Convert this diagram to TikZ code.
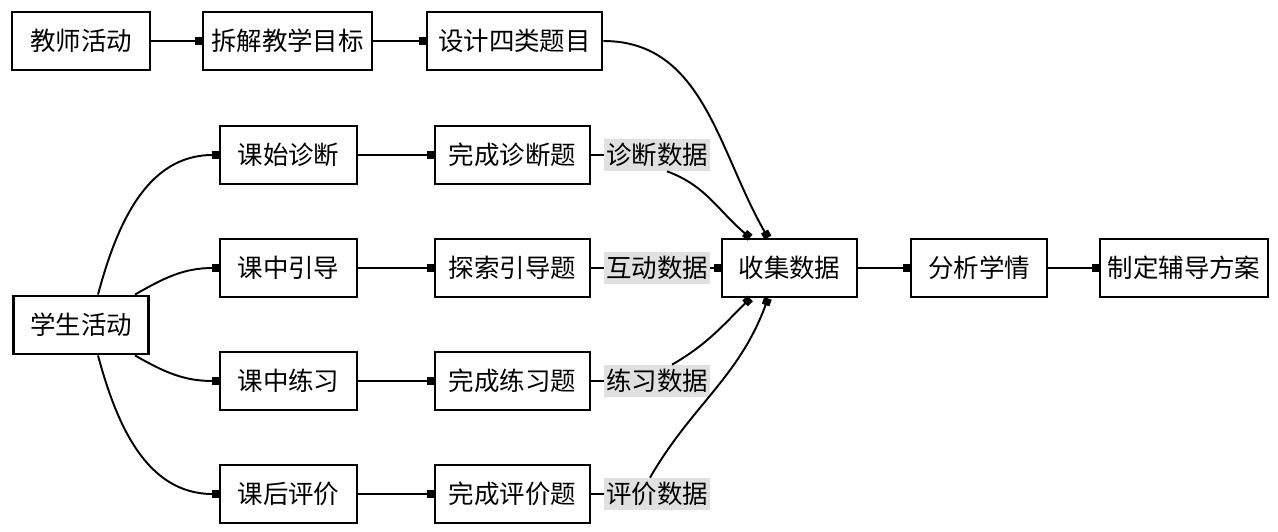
\documentclass[tikz,border=0pt]{standalone}
\usepackage{fontspec}
\setmainfont{Noto Sans CJK SC}
\usepackage{tikz}
\usetikzlibrary{positioning}
\usetikzlibrary{arrows.meta}

\tikzset{
  box/.style={draw, line width=1.6pt, minimum height=1.16cm, minimum width=#1,
    inner sep=0pt, font=\fontsize{14.5}{16}\selectfont},
  datatag/.style={fill=black!12, minimum height=0.64cm, minimum width=2.12cm,
    inner sep=0pt, font=\fontsize{14.5}{16}\selectfont},
  link/.style={line width=1.1pt, -{Square[length=4pt,width=4.5pt]}},
  plain/.style={line width=1.1pt},
}

\begin{document}
\begin{tikzpicture}[x=0.02cm, y=0.02cm]
  \useasboundingbox (0,0) rectangle (1278,-531);

  % teacher row
  \node[box=2.76cm] (teacher) at (81,-41) {教师活动};
  \node[box=3.38cm] (split) at (287.5,-41) {拆解教学目标};
  \node[box=3.5cm] (design) at (514.5,-41) {设计四类题目};
  \draw[link] (teacher) -- (split);
  \draw[link] (split) -- (design);

  % student rows
  \node[box=2.7cm] (student) at (81,-325) {学生活动};
  \node[box=2.7cm] (collect) at (789.5,-268) {收集数据};
  \node[box=2.72cm] (analyse) at (979,-268) {分析学情};
  \node[box=3.36cm] (plan) at (1184,-268) {制定辅导方案};

  \foreach \n/\y/\stage/\task/\data in {1/155/课始诊断/完成诊断题/诊断数据,
      2/268/课中引导/探索引导题/互动数据,
      3/381/课中练习/完成练习题/练习数据,
      4/494/课后评价/完成评价题/评价数据} {
    \node[box=2.74cm] (s\n) at (288.5,-\y) {\stage};
    \node[box=3.1cm] (t\n) at (512.5,-\y) {\task};
    \node[datatag] (d\n) at (657,-\y) {\data};
    \draw[link] (s\n) -- (t\n);
    \draw[plain] (t\n) -- (d\n);
  }

  \draw[link] ([xshift=0.34cm]student.north) to[out=75,in=180] (s1.west);
  \draw[link] ([xshift=1.08cm]student.north) to[out=30,in=180] (s2.west);
  \draw[link] ([xshift=1.08cm]student.south) to[out=-30,in=180] (s3.west);
  \draw[link] ([xshift=0.34cm]student.south) to[out=-75,in=180] (s4.west);

  % into collect
  \draw[link] (design.east) to[out=0,in=120] ([xshift=-0.43cm]collect.north);
  \draw[link] ([xshift=0.2cm]d1.south) to[out=-20,in=140] ([xshift=-0.79cm]collect.north);
  \draw[link] (d2) -- (collect);
  \draw[link] ([xshift=0.3cm]d3.north) to[out=30,in=-135] ([xshift=-0.79cm]collect.south);
  \draw[link] ([xshift=-0.14cm]d4.north) to[out=60,in=-110] ([xshift=-0.43cm]collect.south);

  \draw[link] (collect) -- (analyse);
  \draw[link] (analyse) -- (plan);
\end{tikzpicture}
\end{document}
